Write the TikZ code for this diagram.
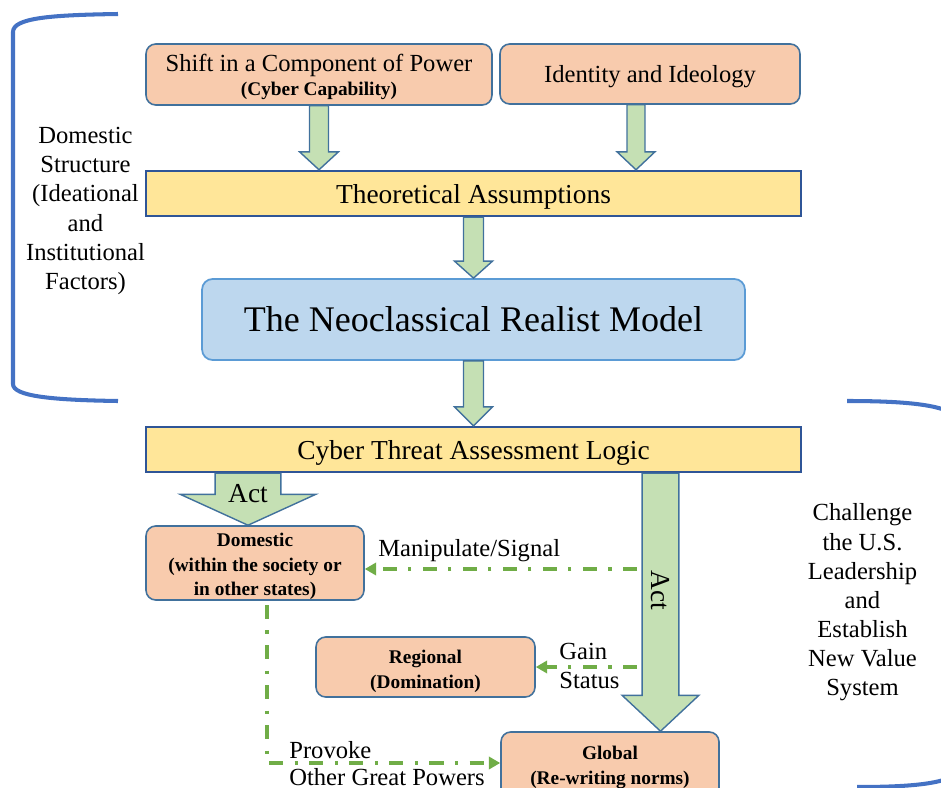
\documentclass[tikz,border=0pt]{standalone}
\usepackage{fontspec}
\setmainfont{Liberation Serif}
\usetikzlibrary{arrows.meta,calc}

\definecolor{boxorange}{HTML}{F8CBAD}
\definecolor{boxyellow}{HTML}{FFE699}
\definecolor{boxblue}{HTML}{BDD7EE}
\definecolor{arrowgreen}{HTML}{C5E0B4}
\definecolor{edgeblue}{HTML}{41719C}
\definecolor{yedge}{HTML}{2F5597}
\definecolor{modeledge}{HTML}{5B9BD5}
\definecolor{bracketblue}{HTML}{4472C4}
\definecolor{flowgreen}{HTML}{70AD47}

% one drawing unit = 0.02cm
\def\pxu{0.5669pt}

% block arrow: #1 start (top centre), #2 tip, #3 half shaft, #4 half head, #5 head length
\newcommand\blockarrow[5]{%
  \draw[blockarr] let \p1=#1, \p2=#2 in
    (\x1-#3*\pxu,\y1) -- (\x1+#3*\pxu,\y1) -- (\x1+#3*\pxu,\y2+#5*\pxu)
    -- (\x1+#4*\pxu,\y2+#5*\pxu) -- (\x1,\y2) -- (\x1-#4*\pxu,\y2+#5*\pxu)
    -- (\x1-#3*\pxu,\y2+#5*\pxu) -- cycle;}

% invisible strut that lowers the text block inside a box
\newcommand\lowerby[1]{\rule{0pt}{#1}}

\tikzset{
  obox/.style={rectangle, rounded corners=5.5pt, fill=boxorange, draw=edgeblue,
    line width=0.9pt, inner sep=0pt, align=center},
  ybox/.style={rectangle, fill=boxyellow, draw=yedge, line width=1.4pt,
    inner sep=0pt, align=center, font=\fontsize{15.6}{18}\selectfont,
    text height=10.9pt, text depth=0pt},
  mbox/.style={rectangle, rounded corners=6pt, fill=boxblue, draw=modeledge,
    line width=1pt, inner sep=0pt, align=center, font=\fontsize{20.5}{24}\selectfont},
  blockarr/.style={fill=arrowgreen, draw=edgeblue, line width=0.8pt, line join=miter},
  flow/.style={draw=flowgreen, line width=2.2pt,
    dash pattern=on 8pt off 6.5pt on 1.8pt off 6.5pt,
    -{Triangle[length=6.5pt,width=7pt]}},
  bracket/.style={draw=bracketblue, line width=2.3pt},
  plain/.style={inner sep=0pt, align=center, font=\fontsize{14}{16.6}\selectfont},
  small/.style={font=\fontsize{11}{14.1}\selectfont\bfseries},
}

\begin{document}
\begin{tikzpicture}[x=0.02cm, y=-0.02cm]
\useasboundingbox (0,0) rectangle (941,788);
\clip (0,0) rectangle (941,788);

% side brackets
\draw[bracket] (118,14) .. controls (50,15) and (13,18) .. (13,32) -- (13,384)
  .. controls (13,396) and (50,400) .. (118,401);
\draw[bracket] (847,401) .. controls (900,401) and (940,404) .. (955,415) -- (955,775)
  .. controls (940,785) and (900,787) .. (857,787);

% boxes
\node[obox, minimum width=6.92cm, minimum height=1.22cm] (shift) at (319,74.5)
  {\fontsize{14}{16}\selectfont\lowerby{13pt}Shift in a Component of Power\\[1.6pt]
   \fontsize{11}{13}\selectfont\bfseries (Cyber Capability)};
\node[obox, minimum width=6cm, minimum height=1.2cm, text depth=0pt,
  font=\fontsize{14}{16}\selectfont] (ident) at (650,74) {Identity and Ideology};
\node[ybox, minimum width=13.1cm, minimum height=0.9cm] (theo) at (473.5,193.5)
  {Theoretical Assumptions};
\node[mbox, minimum width=10.86cm, minimum height=1.62cm] (model) at (473.5,319.5)
  {The Neoclassical Realist Model};
\node[ybox, minimum width=13.1cm, minimum height=0.9cm] (cyber) at (473.5,449.5)
  {Cyber Threat Assessment Logic};
\node[obox, small, minimum width=4.36cm, minimum height=1.48cm] (dom) at (255,563)
  {\lowerby{11.5pt}Domestic\\(within the society or\\in other states)};
\node[obox, small, minimum width=4.38cm, minimum height=1.2cm] (reg) at (425.5,667)
  {\lowerby{12.5pt}Regional\\(Domination)};
\node[obox, small, minimum width=4.36cm, minimum height=1.32cm] (glob) at (610,765)
  {\lowerby{10.5pt}Global\\(Re-writing norms)};

% side texts
\node[plain] (domstruct) at (85.5,211)
  {Domestic\\Structure\\(Ideational\\and\\Institutional\\Factors)};
\node[plain] (challenge) at (862.5,602.5)
  {Challenge\\the U.S.\\Leadership\\and\\Establish\\New Value\\System};

% block arrows
\coordinate (idx) at (636,0);
\coordinate (lax) at (248,0);
\coordinate (rax) at (660.5,0);
\blockarrow{(shift.south)}{(theo.north -| shift.south)}{9.5}{19.5}{18}
\blockarrow{(ident.south -| idx)}{(theo.north -| idx)}{9}{19}{18}
\blockarrow{(theo.south -| model.north)}{(model.north)}{10}{19}{17}
\blockarrow{(model.south)}{(cyber.north -| model.south)}{10}{19}{19}
\blockarrow{(cyber.south -| lax)}{(dom.north -| lax)}{33}{68}{31}
\blockarrow{(cyber.south -| rax)}{(glob.north -| rax)}{18.5}{38.5}{36}

\node[font=\fontsize{15.6}{18}\selectfont, inner sep=0pt] (act1) at (248,494) {Act};
\node[font=\fontsize{15.6}{18}\selectfont, inner sep=0pt, rotate=-90] (act2) at (660.5,590) {Act};

% dash-dot flows
\coordinate (m0) at (637,569);
\coordinate (g0) at (637,667);
\coordinate (p0) at (267,605);
\coordinate (p1) at (267,763);
\draw[flow] (m0) -- (dom.east |- m0);
\draw[flow] (g0) -- (reg.east |- g0);
\draw[flow] (p0) -- (p1) -- (glob.west |- p1);

\node[plain, anchor=west] (manip) at (378,550.5) {Manipulate/Signal};
\node[plain, anchor=west, align=left, font=\fontsize{14}{16.4}\selectfont] (gain) at (559,666)
  {Gain\\Status};
\node[plain, anchor=west, align=left, font=\fontsize{14}{15.3}\selectfont] (provoke) at (289,763.5)
  {Provoke\\Other Great Powers};
\end{tikzpicture}
\end{document}
